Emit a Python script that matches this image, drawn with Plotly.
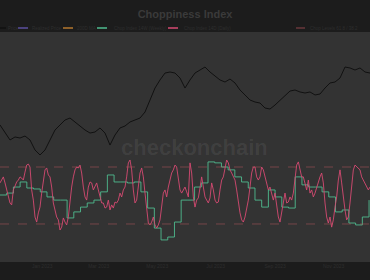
import pandas as pd
import plotly.graph_objects as go

start_date = "2022-11-18"
end_date = "2023-12-09"

price = [21170, 19830, 18670, 19170, 19000, 19330, 18670, 17000, 16170, 17000,
         18670, 20330, 21170, 22000, 22330, 21670, 21000, 20330, 19830, 20000,
         20670, 19830, 17830, 19500, 20670, 21000, 21670, 22000, 22330, 23330,
         25330, 27330, 28670, 29830, 30000, 29830, 29000, 27330, 28670, 29830,
         30330, 30830, 30000, 29330, 28670, 28330, 28830, 28170, 27000, 26170,
         25330, 25000, 24830, 24000, 23830, 24500, 25330, 26000, 26830, 27000,
         26670, 26500, 26670, 26170, 26330, 27330, 28170, 28330, 29000, 30830,
         30670, 30330, 30670, 30000, 29830]

chop_daily = [55.2, 56.4, 57.7, 55.2, 52.3, 49.4, 46.9, 46.1, 52.3, 53.9,
              55.6, 56.4, 57.7, 57.2, 56.4, 59.7, 62.6, 63.0, 61.8, 52.3,
              48.1, 41.1, 39.0, 42.8, 45.2, 51.0, 55.2, 60.6, 61.4, 58.5,
              57.7, 53.5, 46.9, 43.2, 41.1, 39.9, 35.7, 36.9, 40.7, 39.0,
              37.8, 41.1, 48.1, 53.5, 57.7, 60.6, 61.8, 61.4, 62.6, 59.3,
              53.5, 49.4, 48.1, 53.5, 55.6, 55.2, 52.3, 53.5, 55.2, 52.3,
              49.4, 46.9, 46.9, 44.8, 45.2, 48.1, 44.0, 46.1, 44.8, 47.3,
              46.9, 48.1, 51.0, 49.4, 52.3, 53.5, 57.7, 63.5, 64.7, 60.6,
              52.3, 46.9, 48.1, 55.2, 59.3, 61.4, 57.7, 51.0, 44.0, 38.6,
              37.8, 39.0, 41.1, 37.8, 36.5, 37.8, 39.9, 45.2, 51.0, 52.3,
              49.4, 53.5, 56.4, 59.3, 60.6, 62.6, 61.8, 56.4, 52.3, 51.0,
              52.3,
              53.5, 51.5, 49.4, 63.5, 59.3, 49.4, 45.2, 48.1, 49.0, 53.1,
              57.7, 53.5, 49.4, 48.1, 46.9, 49.0, 55.2, 52.3, 48.1, 46.9,
              47.3, 52.3, 56.4, 57.7, 60.6, 64.7, 63.5, 60.6, 59.3, 57.7,
              56.4, 52.3, 46.9, 42.8, 39.9, 39.0, 41.1, 44.0, 48.1, 53.5,
              59.3, 61.8, 61.8, 57.7, 56.4, 57.7, 61.8, 60.6, 57.7, 55.2,
              52.3, 53.5, 51.0, 48.1, 51.0, 46.9, 41.1, 39.0, 42.8, 46.9,
              51.0, 46.9, 47.3, 49.4, 48.1, 51.0, 56.4, 62.6, 63.9, 60.6,
              57.7, 57.7, 55.2, 52.3, 56.4, 51.0, 52.3, 49.4, 51.0, 53.5,
              55.2, 57.7, 59.3, 55.2, 46.9, 41.1, 38.6, 41.1, 36.9, 39.9,
              45.2, 49.4, 56.4, 60.6, 55.2, 48.1, 44.0, 39.9, 41.1, 46.9,
              53.5, 60.6, 62.6, 61.8, 61.4, 60.6, 57.7, 56.4, 55.2, 53.5,
              52.3, 53.5]

chop_weekly = [50.2, 51.0, 53.5, 55.6, 53.1, 52.7, 51.5, 49.4, 48.1, 48.1,
               40.7, 43.2, 45.2, 46.9, 48.1, 51.5, 58.5, 55.6, 55.6, 55.2,
               55.6, 51.5, 44.8, 36.5, 31.6, 32.8, 39.0, 48.1,
               48.1, 53.5, 55.2, 63.9, 63.5, 61.8, 60.6, 57.7, 55.6, 53.1,
               48.1, 45.2, 52.3, 49.4, 45.2, 44.8, 57.7, 54.4, 53.5, 53.5,
               51.5, 49.4, 43.2, 44.0, 38.6, 37.8, 41.1, 48.1]

levels = [61.8, 38.2]

legend_names = ["Price", "Realized Price", "200D MA", "Chop Index 14W (Weekly)",
                "Chop Index 14D (Daily)", "Chop Levels 61.8 / 38.2"]
legend_colors = ["#111111", "#5b4f9e", "#b5772e", "#4fbb8f", "#d64a72",
                 "rgba(200,90,100,0.45)"]

price_dates = pd.date_range(start_date, end_date, periods=len(price))
daily_dates = pd.date_range(start_date, end_date, periods=len(chop_daily))
weekly_dates = pd.date_range(start_date, periods=len(chop_weekly), freq="7D")

fig = go.Figure()
fig.add_trace(go.Scatter(x=price_dates, y=price, name=legend_names[0], mode="lines",
                         line=dict(color=legend_colors[0], width=1)))
fig.add_trace(go.Scatter(x=weekly_dates, y=chop_weekly, name=legend_names[3],
                         mode="lines", line_shape="hv", yaxis="y2",
                         line=dict(color=legend_colors[3], width=0.9)))
fig.add_trace(go.Scatter(x=daily_dates, y=chop_daily, name=legend_names[4],
                         mode="lines", yaxis="y2",
                         line=dict(color=legend_colors[4], width=0.9)))

for lv in levels:
    fig.add_shape(type="line", xref="paper", x0=0, x1=1, yref="y2", y0=lv, y1=lv,
                  line=dict(color=legend_colors[5], width=1, dash="dash"))

# compact legend row (swatch + label), laid out like the reference's scaled legend
legend_swatch_x = [-4, 18, 63, 97, 168, 296]
legend_text_x = [6, 30, 75, 112, 182, 308]
W = 370.0
for i, name in enumerate(legend_names):
    fig.add_shape(type="line", xref="paper", yref="paper",
                  x0=legend_swatch_x[i] / W, x1=(legend_swatch_x[i] + 10) / W,
                  y0=(262 - 28) / 230.0, y1=(262 - 28) / 230.0,
                  line=dict(color=legend_colors[i], width=1.5,
                            dash="dash" if i == 5 else "solid"))
    fig.add_annotation(text=name, xref="paper", yref="paper",
                       x=legend_text_x[i] / W, y=(262 - 28) / 230.0,
                       xanchor="left", yanchor="middle", showarrow=False,
                       font=dict(size=4.5, color="#2e2e2e"))

fig.add_annotation(text="<b>checkonchain</b>", xref="paper", yref="paper",
                   x=0.525, y=0.496, showarrow=False,
                   font=dict(size=22, color="rgba(255,255,255,0.07)",
                             family="Liberation Sans"))

fig.update_layout(
    width=370, height=280,
    margin=dict(l=0, r=0, t=32, b=18, autoexpand=False),
    paper_bgcolor="#1c1c1c",
    plot_bgcolor="#333333",
    font=dict(family="Liberation Sans", color="#2e2e2e", size=5),
    title=dict(text="<b>Choppiness Index</b>", x=0.5, xanchor="center",
               y=0.95, yanchor="middle",
               font=dict(size=11, color="#3a3a3a")),
    showlegend=False,
    xaxis=dict(range=[start_date, end_date], showgrid=False, zeroline=False,
               tickformat="%b %Y", dtick="M2", tick0="2023-01-01",
               tickfont=dict(size=5, color="#2e2e2e"), showline=False),
    yaxis=dict(range=[-1667, 36667], showgrid=False, zeroline=False,
               showticklabels=False),
    yaxis2=dict(range=[22.46, 117.7], overlaying="y", side="right",
                showgrid=False, zeroline=False, showticklabels=False),
)

fig.write_html("out.html")
